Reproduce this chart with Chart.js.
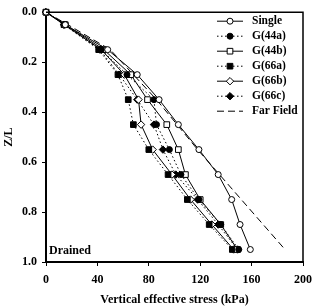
<!DOCTYPE html>
<html><head><meta charset="utf-8">
<script src="https://cdn.jsdelivr.net/npm/chart.js@4.4.1/dist/chart.umd.min.js"></script>
<style>html,body{margin:0;padding:0;background:#fff;} #c{display:block;}</style>
</head><body>
<canvas id="c" width="312" height="307"></canvas>
<script>
'use strict';

/* DATA — Z/L depth vs vertical effective stress (kPa) */
const depth  = [0, 0.05, 0.15, 0.25, 0.35, 0.45, 0.55, 0.65, 0.75, 0.85, 0.95];
const single = [0, 15, 48, 71, 88, 103, 119, 134, 144.5, 151, 159];
const g44a   = [0, 15, 43, 63, 84, 86, 96, 105, 119, 136, 150];
const g44b   = [0, 15, 45, 66, 79, 94, 103, 108.5, 120, 136, 149];
const g66a   = [0, 14, 41, 56, 64, 68, 80, 95, 110, 127, 145];
const g66b   = [0, 14, 43, 61, 72, 74, 83, 98, 112.5, 129, 146];
const g66c   = [0, 14, 42, 57, 71, 84, 91, 101, 118, 134, 149];
const farDepth = [0, 0.05, 0.15, 0.35, 0.55, 0.95];
const farField = [0, 17, 50, 86, 118, 186];
const xTicks = [0, 40, 80, 120, 160, 200];
const yTicks = [0, 0.2, 0.4, 0.6, 0.8, 1.0];

const pts = (xs, zs) => xs.map((v, i) => ({ x: v, y: zs[i] }));
const DOT = [1.5, 2.5];

Chart.defaults.font.family = "'Liberation Serif', 'DejaVu Serif', serif";
Chart.defaults.font.weight = 'bold';
Chart.defaults.font.size = 12;
Chart.defaults.color = '#000';

function series(label, xs, style, open, dash, r) {
  return {
    label, data: pts(xs, depth),
    borderColor: '#000', borderWidth: 1, borderDash: dash,
    pointStyle: style, pointRadius: r, pointBorderWidth: 1,
    pointBackgroundColor: open ? '#fff' : '#000', pointBorderColor: '#000',
    showLine: true, clip: false, tension: 0
  };
}

const datasets = [
  series('Single', single, 'circle', true, [], 3),
  series('G(44a)', g44a, 'circle', false, DOT, 3),
  series('G(44b)', g44b, 'rect', true, [], 4),
  series('G(66a)', g66a, 'rect', false, DOT, 4),
  series('G(66b)', g66b, 'rectRot', true, [], 3.7),
  series('G(66c)', g66c, 'rectRot', false, DOT, 3.7),
  {
    label: 'Far Field', data: pts(farField, farDepth),
    borderColor: '#000', borderWidth: 1, borderDash: [7, 4],
    pointRadius: 0, showLine: true, clip: false, tension: 0
  }
];

/* frame, legend and label drawn on top of the plot */
const framePlugin = {
  id: 'frameLegend',
  afterDraw(chart) {
    const ctx = chart.ctx, a = chart.chartArea;
    ctx.save();
    ctx.strokeStyle = '#000';
    ctx.lineWidth = 1.5;
    ctx.setLineDash([]);
    ctx.beginPath();
    ctx.moveTo(a.left, a.top); ctx.lineTo(a.right, a.top); ctx.lineTo(a.right, a.bottom);
    ctx.stroke();

    ctx.font = "bold 11.5px 'Liberation Serif', serif";
    ctx.textBaseline = 'middle';
    ctx.fillStyle = '#000';
    chart.data.datasets.forEach((ds, i) => {
      const y = a.top + 9 + i * 15;
      const x0 = a.right - 86, x1 = a.right - 60, xm = a.right - 73;
      ctx.lineWidth = 1;
      ctx.setLineDash(ds.borderDash || []);
      ctx.beginPath(); ctx.moveTo(x0, y); ctx.lineTo(x1, y); ctx.stroke();
      ctx.setLineDash([]);
      if (ds.pointRadius) {
        ctx.fillStyle = ds.pointBackgroundColor;
        ctx.strokeStyle = '#000';
        Chart.helpers.drawPoint(ctx, { pointStyle: ds.pointStyle, radius: ds.pointRadius, borderWidth: 1, rotation: 0 }, xm, y);
      }
      ctx.fillStyle = '#000';
      ctx.fillText(ds.label, a.right - 51, y);
    });
    ctx.font = "bold 12px 'Liberation Serif', serif";
    ctx.fillText('Drained', a.left + 3, a.bottom - 11);
    ctx.restore();
  }
};

new Chart(document.getElementById('c'), {
  type: 'scatter',
  data: { datasets },
  plugins: [framePlugin],
  options: {
    responsive: false,
    animation: false,
    layout: { padding: { top: 5, right: 9, left: 0, bottom: 0 } },
    plugins: { legend: { display: false }, tooltip: { enabled: false } },
    scales: {
      x: {
        type: 'linear', min: 0, max: 200,
        afterBuildTicks: s => { s.ticks = xTicks.map(v => ({ value: v })); },
        afterFit: s => { s.height = 45; s.paddingLeft = 0; s.paddingRight = 0; },
        ticks: { padding: 7, callback: v => String(v) },
        grid: { drawOnChartArea: false, drawTicks: true, tickLength: 4, tickColor: '#000', tickWidth: 1 },
        border: { color: '#000', width: 2 },
        title: { display: true, text: 'Vertical effective stress (kPa)', padding: { top: 0, bottom: 0 } }
      },
      y: {
        type: 'linear', min: 0, max: 1, reverse: true,
        afterBuildTicks: s => { s.ticks = yTicks.map(v => ({ value: v })); },
        afterFit: s => { s.width = 46; },
        ticks: { padding: 5, callback: v => v.toFixed(1) },
        grid: { drawOnChartArea: false, drawTicks: true, tickLength: 4, tickColor: '#000', tickWidth: 1 },
        border: { color: '#000', width: 2 },
        title: { display: true, text: 'Z/L', padding: { top: 2, bottom: 0 } }
      }
    }
  }
});
</script>
</body></html>
